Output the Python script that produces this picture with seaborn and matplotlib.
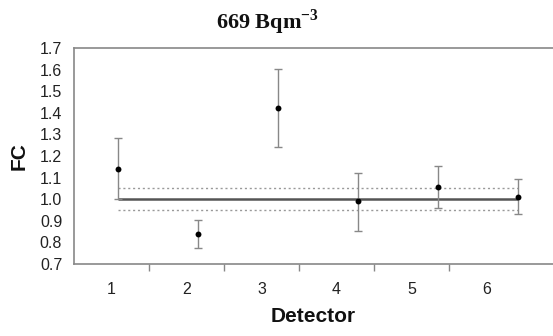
import numpy as np
import pandas as pd
import seaborn as sns
import matplotlib
matplotlib.use("Agg")
import matplotlib.pyplot as plt

# data
detectors = [1, 2, 3, 4, 5, 6]
fc = [1.14, 0.84, 1.42, 0.99, 1.055, 1.01]
err_low = [1.00, 0.775, 1.24, 0.855, 0.96, 0.93]
err_high = [1.285, 0.905, 1.605, 1.12, 1.155, 1.095]
ref_value = 1.0
band = [0.95, 1.05]
y_ticks = [0.7, 0.8, 0.9, 1.0, 1.1, 1.2, 1.3, 1.4, 1.5, 1.6, 1.7]


def main():
    sns.set_style("white")
    plt.rcParams['font.family'] = ['Liberation Sans', 'DejaVu Sans']
    plt.rcParams['mathtext.fontset'] = 'custom'
    plt.rcParams['mathtext.rm'] = 'Liberation Serif'
    plt.rcParams['mathtext.bf'] = 'Liberation Serif:bold'

    df = pd.DataFrame({"Detector": detectors, "FC": fc,
                       "lo": err_low, "hi": err_high})

    fig = plt.figure(figsize=(5.53, 3.36), dpi=100)
    ax = fig.add_axes([74 / 553, 72 / 336, 1 - 74 / 553, 216 / 336])

    # category axis (labels) - like the excel primary axis
    ax.set_xlim(0.5, 0.5 + 479 / 75)
    ax.set_xticks(detectors)
    ax.set_xticklabels([str(d) for d in detectors])
    ax.set_xticks([d + 0.5 for d in detectors[:-1]], minor=True)
    ax.tick_params(axis='x', which='major', length=0, labelsize=11.5,
                   pad=13, colors='#222222')
    ax.tick_params(axis='x', which='minor', length=5, width=1,
                   direction='out', color='#888888')
    ax.set_ylim(0.7, 1.7)
    ax.set_yticks(y_ticks)
    ax.set_yticklabels(["%.1f" % v for v in y_ticks])
    ax.tick_params(axis='y', length=5, width=1, direction='out',
                   labelsize=11.5, color='#888888', labelcolor='#222222')
    ax.spines['right'].set_visible(False)
    for side in ['left', 'bottom', 'top']:
        ax.spines[side].set_color('#888888')
        ax.spines[side].set_linewidth(1.2)

    # value axis for the points (secondary, hidden)
    ax2 = ax.twiny()
    ax2.set_xlim(0.45, 0.45 + 479 / 80)
    ax2.set_ylim(0.7, 1.7)

    ax2.hlines(ref_value, detectors[0], detectors[-1], color='#555555',
               linewidth=1.8, zorder=1)
    for b in band:
        ax2.hlines(b, detectors[0], detectors[-1], color='#999999',
                   linewidth=1.0, linestyles=(0, (1.5, 2)), zorder=1)

    ax2.errorbar(df["Detector"], df["FC"],
                 yerr=[df["FC"] - df["lo"], df["hi"] - df["FC"]],
                 fmt='none', ecolor='#888888', elinewidth=1.0,
                 capsize=3, capthick=1.0, zorder=2)
    sns.scatterplot(data=df, x="Detector", y="FC", ax=ax2, color='black',
                    s=18, edgecolor='black', linewidth=0, zorder=3,
                    legend=False)
    ax2.axis('off')

    ax.set_xlabel("Detector", fontsize=15, fontweight='bold',
                  color='#111111', labelpad=7)
    ax.set_ylabel("FC", fontsize=15, fontweight='bold', color='#111111',
                  labelpad=8)

    fig.text(267 / 553, 1 - 22 / 336, r"669 Bqm$^{\mathbf{-3}}$",
             ha='center', va='center', fontsize=16, fontweight='bold',
             family=['Liberation Serif'], color='#111111')

    plt.savefig("out.png", dpi=100)


if __name__ == "__main__":
    main()
